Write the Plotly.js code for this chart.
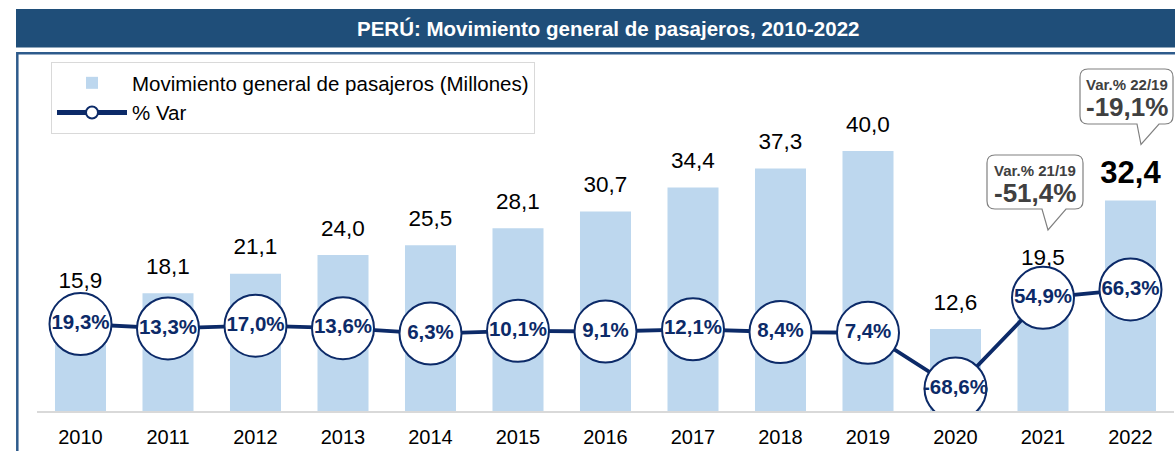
<!DOCTYPE html>
<html>
<head>
<meta charset="utf-8">
<script src="https://cdn.plot.ly/plotly-3.0.1.min.js"></script>
<style>html,body{margin:0;padding:0;background:#fff;}#chart{width:1175px;height:451px;}</style>
</head>
<body>
<div id="chart"></div>
<script>
// ---- data ----
const years = ['2010','2011','2012','2013','2014','2015','2016','2017','2018','2019','2020','2021','2022'];
const pasajeros = [15.9, 18.1, 21.1, 24.0, 25.5, 28.1, 30.7, 34.4, 37.3, 40.0, 12.6, 19.5, 32.4];
const variacion = [19.3, 13.3, 17.0, 13.6, 6.3, 10.1, 9.1, 12.1, 8.4, 7.4, -68.6, 54.9, 66.3];
const calloutLabels = ['Var.% 21/19', 'Var.% 22/19'];
const calloutValues = [-51.4, -19.1];
const seriesNames = ['Movimiento general de pasajeros (Millones)', '% Var'];
const chartTitle = 'PERÚ: Movimiento general de pasajeros, 2010-2022';

// ---- helpers ----
const W = 1175, H = 451;
const fmt = v => v.toFixed(1).replace('.', ',');
const X = x => x / W;
const Y = y => 1 - y / H;
const FONT = 'Liberation Sans, Arial, sans-serif';
const NAVY = '#0c2a68';

function callout(x0, y0, x1, y1, r, tl, tr, ax, ay) {
  const pts = [
    ['M', x0 + r, y0], ['L', x1 - r, y0], ['Q', x1, y0, x1, y0 + r],
    ['L', x1, y1 - r], ['Q', x1, y1, x1 - r, y1], ['L', tr, y1], ['L', ax, ay],
    ['L', tl, y1], ['L', x0 + r, y1], ['Q', x0, y1, x0, y1 - r],
    ['L', x0, y0 + r], ['Q', x0, y0, x0 + r, y0]
  ];
  let d = '';
  pts.forEach(p => {
    d += p[0];
    const c = [];
    for (let i = 1; i < p.length; i += 2) c.push(X(p[i]).toFixed(5) + ',' + Y(p[i + 1]).toFixed(5));
    d += c.join(' ') + ' ';
  });
  return d + 'Z';
}

// bar value labels
const barLabels = pasajeros.map((v, i) => i === pasajeros.length - 1 ? '<b>' + fmt(v) + '</b>' : fmt(v));
const barLabelSizes = pasajeros.map((v, i) => i === pasajeros.length - 1 ? 31 : 22.5);

const yDomain = [Y(411), Y(60)];
const pxPerUnit = 6.5;
const yMax = (411 - 60) / pxPerUnit;
const labelOffset = 25 / pxPerUnit;

const traces = [
  {
    type: 'bar', name: seriesNames[0], x: years, y: pasajeros,
    marker: { color: '#bdd7ee' }, yaxis: 'y', hoverinfo: 'skip'
  },
  {
    type: 'scatter', mode: 'text', x: years, y: pasajeros, text: barLabels,
    textposition: 'middle center', showlegend: false, yaxis: 'y2', hoverinfo: 'skip',
    textfont: { family: FONT, size: barLabelSizes, color: '#000000' }
  },
  {
    type: 'scatter', mode: 'lines+markers+text', name: seriesNames[1], x: years, y: variacion,
    text: variacion.map(v => fmt(v) + '%'), textposition: 'middle center', yaxis: 'y3',
    line: { color: NAVY, width: 3.8 },
    marker: { size: 62, color: '#ffffff', line: { color: NAVY, width: 2 } },
    textfont: { family: FONT, size: 20.5, color: NAVY, weight: 'bold' },
    hoverinfo: 'skip'
  }
];

const c1 = callout(987, 155, 1083, 209, 8, 1042, 1066, 1048, 230);
const c2 = callout(1080, 69, 1173, 124, 8, 1137, 1159, 1141, 144.5);

const layout = {
  width: W, height: H,
  margin: { l: 0, r: 0, t: 0, b: 0 },
  paper_bgcolor: '#ffffff', plot_bgcolor: 'rgba(0,0,0,0)',
  font: { family: FONT, color: '#000000' },
  showlegend: true,
  bargap: 0.417,
  xaxis: {
    type: 'category', domain: [36.75 / W, 1174.25 / W], range: [-0.5, 12.5],
    showline: true, linecolor: '#d9d9d9', linewidth: 2,
    ticks: 'outside', ticklen: 7, tickcolor: 'rgba(0,0,0,0)',
    tickfont: { family: FONT, size: 20, color: '#000000' },
    showgrid: false, zeroline: false, fixedrange: true
  },
  yaxis: {
    domain: yDomain, range: [0, yMax], visible: false, fixedrange: true
  },
  yaxis2: {
    overlaying: 'y', range: [-labelOffset, yMax - labelOffset], visible: false, fixedrange: true
  },
  yaxis3: {
    overlaying: 'y', range: [-(411 - 338.2) / 0.735, (338.2 - 60) / 0.735], visible: false, fixedrange: true
  },
  legend: {
    x: X(51), y: Y(62), xanchor: 'left', yanchor: 'top',
    bgcolor: '#ffffff', bordercolor: '#d9d9d9', borderwidth: 1,
    font: { family: FONT, size: 20.5, color: '#000000' },
    itemwidth: 70, itemsizing: 'constant', tracegroupgap: 0,
    traceorder: 'normal'
  },
  shapes: [
    { type: 'rect', xref: 'paper', yref: 'paper', x0: X(16), x1: X(1200), y0: Y(47.5), y1: Y(9),
      fillcolor: '#1f4e79', line: { width: 0 }, layer: 'above' },
    { type: 'path', xref: 'paper', yref: 'paper',
      path: 'M' + X(17.3) + ',' + Y(470) + ' L' + X(17.3) + ',' + Y(53.3) + ' L' + X(1200) + ',' + Y(53.3),
      line: { color: '#2e5b8c', width: 2.5 }, layer: 'above' },
    { type: 'path', xref: 'paper', yref: 'paper', path: c1,
      fillcolor: '#ffffff', line: { color: '#808080', width: 1.2 }, layer: 'above' },
    { type: 'path', xref: 'paper', yref: 'paper', path: c2,
      fillcolor: '#ffffff', line: { color: '#808080', width: 1.2 }, layer: 'above' }
  ],
  annotations: [
    { xref: 'paper', yref: 'paper', x: X(608), y: Y(28.5), text: '<b>' + chartTitle + '</b>', showarrow: false,
      font: { family: FONT, size: 20.5, color: '#ffffff' }, xanchor: 'center', yanchor: 'middle' },
    { xref: 'paper', yref: 'paper', x: X(1035), y: Y(170), text: '<b>' + calloutLabels[0] + '</b>', showarrow: false,
      font: { family: FONT, size: 15, color: '#404040' }, xanchor: 'center', yanchor: 'middle' },
    { xref: 'paper', yref: 'paper', x: X(1035), y: Y(193), text: '<b>' + fmt(calloutValues[0]) + '%</b>', showarrow: false,
      font: { family: FONT, size: 26, color: '#404040' }, xanchor: 'center', yanchor: 'middle' },
    { xref: 'paper', yref: 'paper', x: X(1126.5), y: Y(84), text: '<b>' + calloutLabels[1] + '</b>', showarrow: false,
      font: { family: FONT, size: 15, color: '#404040' }, xanchor: 'center', yanchor: 'middle' },
    { xref: 'paper', yref: 'paper', x: X(1126.5), y: Y(107), text: '<b>' + fmt(calloutValues[1]) + '%</b>', showarrow: false,
      font: { family: FONT, size: 26, color: '#404040' }, xanchor: 'center', yanchor: 'middle' }
  ]
};

Plotly.newPlot('chart', traces, layout, { displayModeBar: false, staticPlot: true });
</script>
</body>
</html>
